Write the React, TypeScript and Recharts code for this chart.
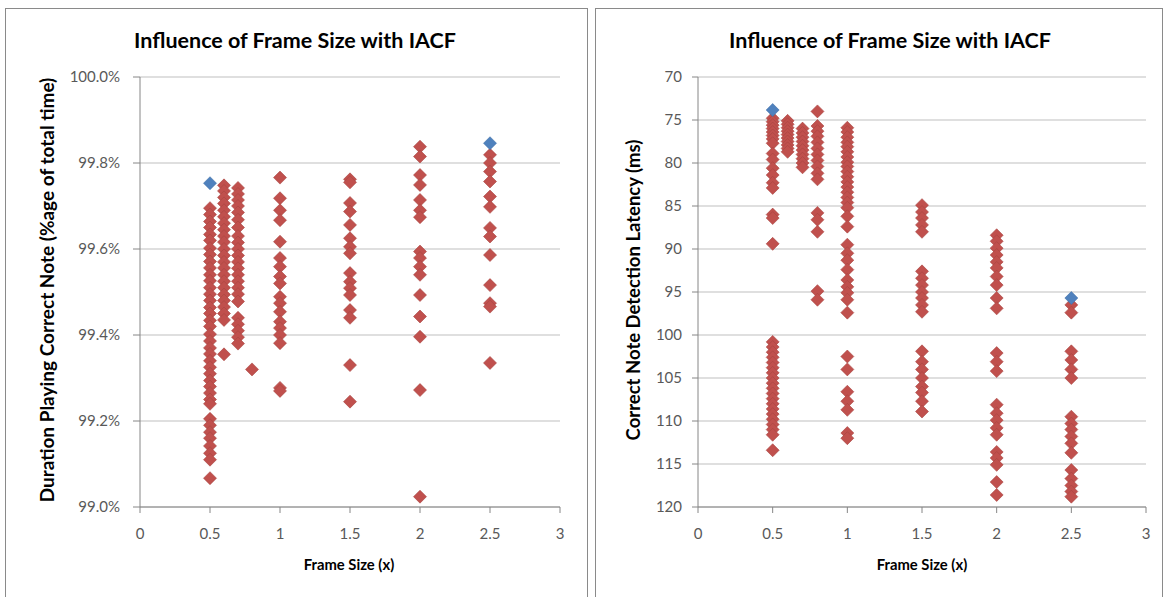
import React from 'react';
import { ScatterChart, Scatter, XAxis, YAxis, CartesianGrid, Label } from 'recharts';

// frame sizes (x) that were tested
const frameSizes = [0.5, 0.6, 0.7, 0.8, 1, 1.5, 2, 2.5];

// left chart: duration playing correct note (% of total time)
const acc05 = [99.695, 99.68, 99.664, 99.65, 99.634, 99.62, 99.602, 99.587, 99.571, 99.556, 99.54, 99.526, 99.51, 99.495, 99.48, 99.464, 99.45, 99.434, 99.42, 99.402, 99.386, 99.37, 99.356, 99.34, 99.325, 99.31, 99.294, 99.28, 99.265, 99.25, 99.24, 99.205, 99.19, 99.174, 99.16, 99.142, 99.125, 99.11, 99.067];
const acc06 = [99.748, 99.735, 99.72, 99.706, 99.69, 99.675, 99.66, 99.645, 99.63, 99.616, 99.6, 99.585, 99.57, 99.556, 99.54, 99.525, 99.51, 99.494, 99.48, 99.465, 99.45, 99.435, 99.355];
const acc07 = [99.742, 99.728, 99.714, 99.7, 99.685, 99.668, 99.65, 99.63, 99.615, 99.6, 99.585, 99.57, 99.555, 99.54, 99.525, 99.51, 99.495, 99.478, 99.44, 99.425, 99.41, 99.395, 99.38];
const acc08 = [99.32];
const acc10 = [99.766, 99.718, 99.69, 99.667, 99.617, 99.579, 99.559, 99.536, 99.52, 99.489, 99.474, 99.454, 99.431, 99.416, 99.4, 99.381, 99.277, 99.27];
const acc15 = [99.762, 99.755, 99.707, 99.687, 99.656, 99.625, 99.605, 99.59, 99.544, 99.524, 99.509, 99.493, 99.458, 99.44, 99.33, 99.245];
const acc20 = [99.838, 99.815, 99.772, 99.749, 99.714, 99.69, 99.674, 99.594, 99.579, 99.559, 99.54, 99.493, 99.443, 99.396, 99.272, 99.024];
const acc25 = [99.819, 99.8, 99.78, 99.757, 99.722, 99.698, 99.649, 99.629, 99.586, 99.516, 99.474, 99.466, 99.335];
const accBaseX = [0.5, 2.5];
const accBaseY = [99.753, 99.846];
const accTicks = [99.0, 99.2, 99.4, 99.6, 99.8, 100.0];

// right chart: correct note detection latency (ms)
const lat05 = [74.8, 75.2, 75.6, 76.0, 76.4, 76.8, 77.2, 77.7, 78.9, 79.6, 80.6, 81.4, 82.3, 82.9, 86.0, 86.4, 89.4, 100.8, 101.4, 102.0, 102.6, 103.2, 103.8, 104.4, 105.0, 105.6, 106.2, 106.8, 107.4, 108.0, 108.6, 109.2, 109.8, 110.4, 111.0, 111.6, 113.4];
const lat06 = [75.1, 75.5, 75.9, 76.3, 76.7, 77.1, 77.5, 77.9, 78.3, 78.7];
const lat07 = [76.0, 76.5, 77.0, 77.5, 78.0, 78.5, 79.0, 79.5, 80.0, 80.5];
const lat08 = [74.0, 75.7, 76.3, 76.9, 77.6, 78.3, 79.0, 79.7, 80.4, 81.2, 81.9, 85.8, 86.6, 88.0, 94.9, 95.9];
const lat10 = [75.9, 76.4, 77.0, 77.6, 78.1, 78.7, 79.3, 79.9, 80.4, 81.0, 81.6, 82.2, 82.8, 83.4, 84.0, 84.6, 85.2, 86.2, 87.4, 89.5, 90.5, 91.3, 92.4, 93.6, 94.4, 95.1, 95.9, 97.4, 102.5, 104.0, 106.6, 107.7, 108.7, 111.4, 112.0];
const lat15 = [84.9, 85.7, 86.4, 87.2, 88.0, 92.6, 93.4, 94.2, 95.0, 95.7, 96.5, 97.3, 101.9, 103.1, 104.0, 105.0, 106.0, 106.7, 107.7, 108.9];
const lat20 = [88.4, 89.1, 89.9, 90.7, 91.5, 92.2, 93.2, 94.2, 95.7, 96.9, 102.1, 103.1, 104.2, 108.1, 109.1, 109.9, 110.8, 111.6, 113.6, 114.3, 115.1, 117.1, 118.6];
const lat25 = [96.5, 97.4, 101.9, 102.9, 104.0, 105.0, 109.5, 110.3, 111.0, 111.8, 112.6, 113.7, 115.7, 116.7, 117.5, 118.2, 118.8];
const latBaseX = [0.5, 2.5];
const latBaseY = [73.84, 95.7];
const latTicks = [70, 75, 80, 85, 90, 95, 100, 105, 110, 115, 120];

const xTicks = [0, 0.5, 1, 1.5, 2, 2.5, 3];

const RED = '#C0504D';
const BLUE = '#4F81BD';
const FONT = 'Lato, "Open Sans", sans-serif';

const toPoints = (cols: number[][]) =>
  frameSizes.flatMap((x, i) => cols[i].map((y) => ({ x, y })));
const pairPoints = (xs: number[], ys: number[]) => xs.map((x, i) => ({ x, y: ys[i] }));

const accRed = toPoints([acc05, acc06, acc07, acc08, acc10, acc15, acc20, acc25]);
const accBlue = pairPoints(accBaseX, accBaseY);
const latRed = toPoints([lat05, lat06, lat07, lat08, lat10, lat15, lat20, lat25]);
const latBlue = pairPoints(latBaseX, latBaseY);

const Diamond = (props: any) => {
  const { cx, cy, fill, stroke } = props;
  const r = 6.5;
  return (
    <polygon
      points={`${cx},${cy - r} ${cx + r},${cy} ${cx},${cy + r} ${cx - r},${cy}`}
      fill={fill}
      stroke={stroke}
      strokeWidth={0.6}
    />
  );
};

const tickStyle = { fontSize: 15, fill: '#595959', fontFamily: FONT };

const yTitle = (text: string, x: number, size: number) => () => (
  <text
    x={x}
    y={290}
    transform={`rotate(-90 ${x} 290)`}
    textAnchor="middle"
    dominantBaseline="central"
    style={{ fontSize: size, fontWeight: 700, fontFamily: FONT, fill: '#000' }}
  >
    {text}
  </text>
);

const xTitle = (x: number) => () => (
  <text
    x={x}
    y={564}
    textAnchor="middle"
    dominantBaseline="central"
    style={{ fontSize: 14.8, fontWeight: 700, fontFamily: FONT, fill: '#000' }}
  >
    Frame Size (x)
  </text>
);

const titleStyle: React.CSSProperties = {
  position: 'absolute',
  top: 26,
  textAlign: 'center',
  fontFamily: FONT,
  fontWeight: 700,
  fontSize: 21.5,
  lineHeight: '28px',
  color: '#000',
  whiteSpace: 'nowrap',
};

export default function App() {
  return (
    <div style={{ position: 'absolute', left: 0, top: 0, width: 1168, height: 597, overflow: 'hidden', background: '#fff' }}>
      {/* panel frames */}
      <div style={{ position: 'absolute', left: 5, top: 8, width: 583, height: 600, border: '1.5px solid #8a8a8a', boxSizing: 'border-box' }} />
      <div style={{ position: 'absolute', left: 595, top: 8, width: 568, height: 600, border: '1.5px solid #8a8a8a', boxSizing: 'border-box' }} />

      <div style={{ ...titleStyle, left: 95, width: 400 }}>Influence of Frame Size with IACF</div>
      <div style={{ ...titleStyle, left: 690, width: 400 }}>Influence of Frame Size with IACF</div>

      <div style={{ position: 'absolute', left: 0, top: 0 }}>
        <ScatterChart width={590} height={597} margin={{ top: 77, right: 30, bottom: 0, left: 0 }}>
          <CartesianGrid vertical={false} stroke="#bfbfbf" strokeWidth={1.2} />
          <XAxis
            type="number"
            dataKey="x"
            domain={[0, 3]}
            ticks={xTicks}
            height={90}
            tickSize={6}
            tickMargin={15}
            tick={tickStyle}
            axisLine={{ stroke: '#868686' }}
            tickLine={{ stroke: '#868686' }}
          >
            <Label content={xTitle(349)} />
          </XAxis>
          <YAxis
            type="number"
            dataKey="y"
            domain={[99, 100]}
            ticks={accTicks}
            width={140}
            tickSize={7}
            tickMargin={13}
            tick={tickStyle}
            tickFormatter={(v: number) => `${v.toFixed(1)}%`}
            axisLine={{ stroke: '#868686' }}
            tickLine={{ stroke: '#868686' }}
            interval={0}
          >
            <Label content={yTitle('Duration Playing Correct Note (%age of total time)', 46, 19)} />
          </YAxis>
          <Scatter data={accRed} fill={RED} stroke="#a84542" shape={Diamond} isAnimationActive={false} />
          <Scatter data={accBlue} fill={BLUE} stroke="#3f6fa8" shape={Diamond} isAnimationActive={false} />
        </ScatterChart>
      </div>

      <div style={{ position: 'absolute', left: 596, top: 0 }}>
        <ScatterChart width={572} height={597} margin={{ top: 77, right: 22, bottom: 0, left: 0 }}>
          <CartesianGrid vertical={false} stroke="#bfbfbf" strokeWidth={1.2} />
          <XAxis
            type="number"
            dataKey="x"
            domain={[0, 3]}
            ticks={xTicks}
            height={90}
            tickSize={6}
            tickMargin={15}
            tick={tickStyle}
            axisLine={{ stroke: '#868686' }}
            tickLine={{ stroke: '#868686' }}
          >
            <Label content={xTitle(326)} />
          </XAxis>
          <YAxis
            type="number"
            dataKey="y"
            domain={[70, 120]}
            ticks={latTicks}
            reversed
            width={102}
            tickSize={6}
            tickMargin={10}
            tick={tickStyle}
            axisLine={{ stroke: '#868686' }}
            tickLine={{ stroke: '#868686' }}
            interval={0}
          >
            <Label content={yTitle('Correct Note Detection Latency (ms)', 37, 18.5)} />
          </YAxis>
          <Scatter data={latRed} fill={RED} stroke="#a84542" shape={Diamond} isAnimationActive={false} />
          <Scatter data={latBlue} fill={BLUE} stroke="#3f6fa8" shape={Diamond} isAnimationActive={false} />
        </ScatterChart>
      </div>
    </div>
  );
}
